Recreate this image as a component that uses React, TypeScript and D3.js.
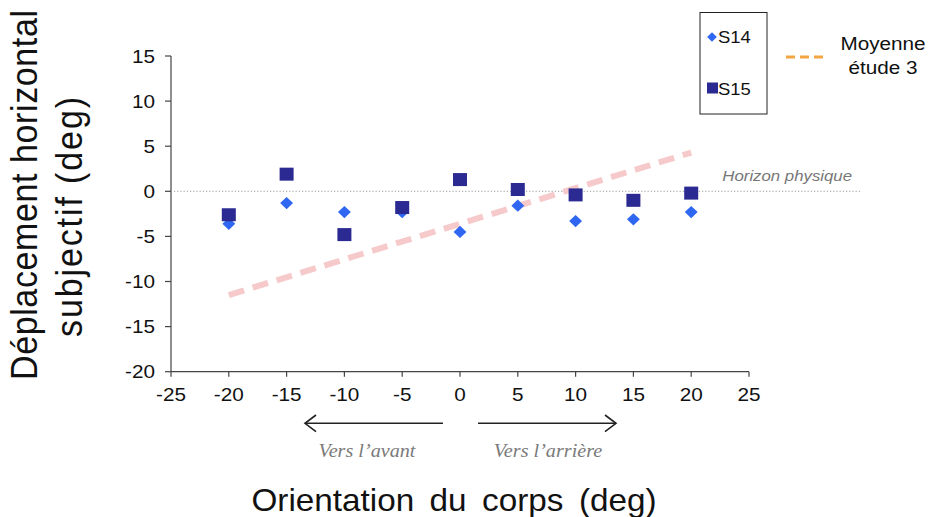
import React from "react";
import * as d3 from "d3";

const orientations = [-20, -15, -10, -5, 0, 5, 10, 15, 20];
const s14Values = [-3.6, -1.3, -2.3, -2.3, -4.5, -1.6, -3.3, -3.1, -2.3];
const s15Values = [-2.6, 1.9, -4.8, -1.8, 1.3, 0.2, -0.4, -1.0, -0.2];
const meanLineX = [-20, 20];
const meanLineY = [-11.5, 4.3];
const xTicks = [-25, -20, -15, -10, -5, 0, 5, 10, 15, 20, 25];
const yTicks = [15, 10, 5, 0, -5, -10, -15, -20];

const W = 929;
const H = 517;
const SANS = "'Liberation Sans', Arial, sans-serif";
const SERIF = "'Liberation Serif', 'Times New Roman', serif";
const SX = 1.12;

export default function App() {
  const x = d3.scaleLinear().domain([-25, 25]).range([171, 749]);
  const y = d3.scaleLinear().domain([-20, 15]).range([371.7, 56]);

  const meanPts: [number, number][] = meanLineX.map((v, i) => [x(v), y(meanLineY[i])]);
  const line = d3.line();
  const diamond = d3.symbol().type(d3.symbolDiamond2).size(96)();
  const legendDiamond = d3.symbol().type(d3.symbolDiamond2).size(60)();

  return (
    <svg
      width={W}
      height={H}
      style={{ position: "absolute", left: 0, top: 0, background: "#fff" }}
    >
      <rect x={0} y={0} width={W} height={H} fill="#fff" />

      {/* horizon line */}
      <line
        x1={x(-25) + 3}
        x2={862}
        y1={y(0)}
        y2={y(0)}
        stroke="#9a9a9a"
        strokeWidth={1}
        strokeDasharray="1.2,2"
      />
      <text
        transform={`translate(852,181) scale(${SX},1)`}
        textAnchor="end"
        fontFamily={SANS}
        fontStyle="italic"
        fontSize={15}
        fill="#777"
      >
        Horizon physique
      </text>

      {/* y axis */}
      <line x1={x(-25)} x2={x(-25)} y1={y(15)} y2={y(-20)} stroke="#444" strokeWidth={1.2} />
      {yTicks.map((t) => (
        <g key={"yt" + t}>
          <line x1={x(-25) - 6} x2={x(-25)} y1={y(t)} y2={y(t)} stroke="#444" strokeWidth={1.2} />
          <text
            transform={`translate(155,${y(t) + 6.5}) scale(${SX},1)`}
            textAnchor="end"
            fontFamily={SANS}
            fontSize={18.5}
            fill="#111"
          >
            {t}
          </text>
        </g>
      ))}

      {/* x axis */}
      <line x1={x(-25)} x2={x(25)} y1={y(-20)} y2={y(-20)} stroke="#444" strokeWidth={1.2} />
      {xTicks.map((t) => (
        <g key={"xt" + t}>
          <line x1={x(t)} x2={x(t)} y1={y(-20)} y2={y(-20) + 5} stroke="#444" strokeWidth={1.2} />
          <text
            transform={`translate(${x(t)},401) scale(${SX},1)`}
            textAnchor="middle"
            fontFamily={SANS}
            fontSize={18.5}
            fill="#111"
          >
            {t}
          </text>
        </g>
      ))}

      {/* mean line */}
      <path
        d={line(meanPts) || ""}
        stroke="#f6c9cb"
        strokeWidth={6}
        strokeDasharray="16,9"
        fill="none"
      />

      {/* S14 diamonds */}
      {orientations.map((o, i) => (
        <path
          key={"d" + o}
          d={diamond || ""}
          transform={`translate(${x(o)},${y(s14Values[i])}) scale(1.05,1)`}
          fill="#2f66f2"
        />
      ))}
      {/* S15 squares */}
      {orientations.map((o, i) => (
        <rect
          key={"s" + o}
          x={x(o) - 7}
          y={y(s15Values[i]) - 6.5}
          width={14}
          height={13}
          fill="#2a2a92"
        />
      ))}

      {/* legend box */}
      <rect x={700} y={12.5} width={67} height={101.5} fill="#fff" stroke="#222" strokeWidth={1} />
      <path d={legendDiamond || ""} transform="translate(712,37)" fill="#2f66f2" />
      <text transform={`translate(718,43) scale(${SX},1)`} fontFamily={SANS} fontSize={16.5} fill="#111">S14</text>
      <rect x={707} y={82.5} width={11} height={11} fill="#2a2a92" />
      <text transform={`translate(718,94.5) scale(${SX},1)`} fontFamily={SANS} fontSize={16.5} fill="#111">S15</text>

      {/* mean legend */}
      <line
        x1={786}
        x2={824}
        y1={57}
        y2={57}
        stroke="#f3a544"
        strokeWidth={3}
        strokeDasharray="9,5"
      />
      <text transform={`translate(883,50) scale(${SX},1)`} textAnchor="middle" fontFamily={SANS} fontSize={18.5} fill="#111">
        Moyenne
      </text>
      <text transform={`translate(883,73.5) scale(${SX},1)`} textAnchor="middle" fontFamily={SANS} fontSize={18.5} fill="#111">
        étude 3
      </text>

      {/* arrows */}
      <line x1={443} x2={305} y1={423.3} y2={423.3} stroke="#222" strokeWidth={1.6} />
      <polyline points="316,415 305,423.3 316,431.6" fill="none" stroke="#222" strokeWidth={1.6} />
      <line x1={478} x2={616} y1={423.3} y2={423.3} stroke="#222" strokeWidth={1.6} />
      <polyline points="605,415 616,423.3 605,431.6" fill="none" stroke="#222" strokeWidth={1.6} />
      <text transform={`translate(367,456.5) scale(${SX},1)`} textAnchor="middle" fontFamily={SERIF} fontStyle="italic" fontSize={18} fill="#7a7a7a">
        Vers l’avant
      </text>
      <text transform={`translate(548,456.5) scale(${SX},1)`} textAnchor="middle" fontFamily={SERIF} fontStyle="italic" fontSize={18} fill="#7a7a7a">
        Vers l’arrière
      </text>

      {/* x title */}
      <text
        transform="translate(454,511) scale(1.04,1)"
        textAnchor="middle"
        fontFamily={SANS}
        fontSize={32}
        wordSpacing={6}
        fill="#111"
      >
        Orientation du corps (deg)
      </text>

      {/* y title */}
      <g transform="translate(37,195) rotate(-90) scale(1,1.1)">
        <text
          x={0}
          y={0}
          textAnchor="middle"
          fontFamily={SANS}
          fontSize={34}
          textLength={370}
          lengthAdjust="spacing"
          fill="#111"
        >
          Déplacement horizontal
        </text>
      </g>
      <g transform="translate(82,217) rotate(-90) scale(1,1.1)">
        <text
          x={0}
          y={0}
          textAnchor="middle"
          fontFamily={SANS}
          fontSize={34}
          textLength={240}
          lengthAdjust="spacing"
          fill="#111"
        >
          subjectif (deg)
        </text>
      </g>
    </svg>
  );
}
